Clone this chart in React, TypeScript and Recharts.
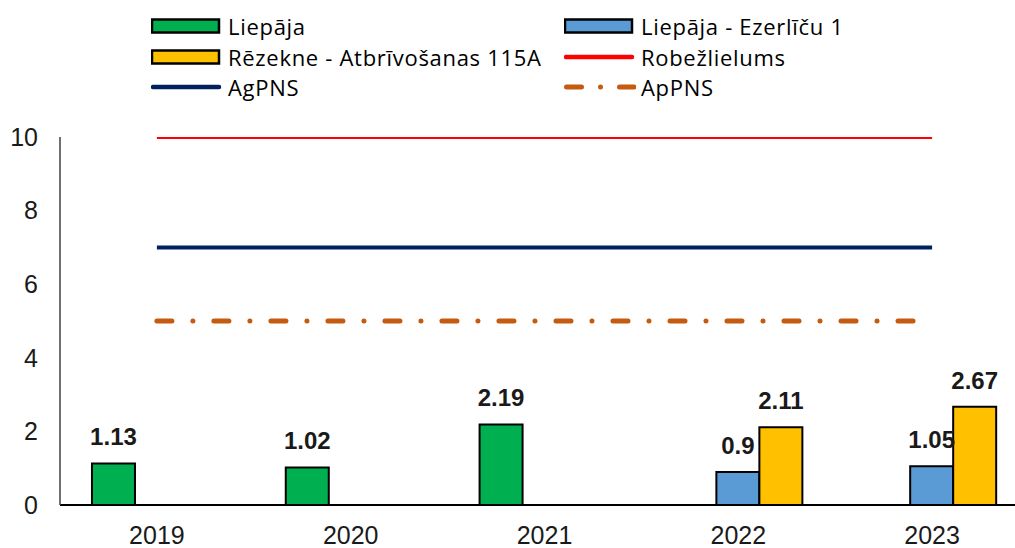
import React from "react";
import { ComposedChart, Bar, Line, XAxis, YAxis, LabelList, Legend } from "recharts";

const years = ["2019", "2020", "2021", "2022", "2023"];
const liepaja: (number | null)[] = [1.13, 1.02, 2.19, null, null];
const ezerlicu: (number | null)[] = [null, null, null, 0.9, 1.05];
const rezekne: (number | null)[] = [null, null, null, 2.11, 2.67];
const robezlielums = [10, 10, 10, 10, 10];
const agpns = [7, 7, 7, 7, 7];
const appns = [5, 5, 5, 5, 5];
const yTicks = [0, 2, 4, 6, 8, 10];

const data = years.map((y, i) => ({
  year: y,
  liepaja: liepaja[i],
  ezerlicu: ezerlicu[i],
  rezekne: rezekne[i],
  robezlielums: robezlielums[i],
  agpns: agpns[i],
  appns: appns[i],
}));

const GREEN = "#00B050";
const BLUE = "#5B9BD5";
const YELLOW = "#FFC000";
const RED = "#FF0000";
const NAVY = "#002060";
const ORANGE = "#C55A11";

const legendItems = [
  { name: "Liepāja", type: "rect", color: GREEN, x: 151, y: 26 },
  { name: "Liepāja - Ezerlīču 1", type: "rect", color: BLUE, x: 564, y: 26 },
  { name: "Rēzekne - Atbrīvošanas 115A", type: "rect", color: YELLOW, x: 151, y: 56.5 },
  { name: "Robežlielums", type: "line", color: RED, x: 564, y: 56.5 },
  { name: "AgPNS", type: "line", color: NAVY, x: 151, y: 87 },
  { name: "ApPNS", type: "dashdot", color: ORANGE, x: 564, y: 87 },
];

const LegendContent = () => (
  <div style={{ position: "relative", width: 1015, height: 105 }}>
    {legendItems.map((it) => (
      <div
        key={it.name}
        style={{
          position: "absolute",
          left: it.x,
          top: it.y - 15,
          height: 30,
          display: "flex",
          alignItems: "center",
          whiteSpace: "nowrap",
        }}
      >
        <svg width={72} height={30} style={{ display: "block" }}>
          {it.type === "rect" && (
            <rect x={1} y={8.5} width={67} height={13} fill={it.color} stroke="#000" strokeWidth={2.5} />
          )}
          {it.type === "line" && (
            <line x1={2} y1={15} x2={68} y2={15} stroke={it.color} strokeWidth={4.5} strokeLinecap="round" />
          )}
          {it.type === "dashdot" && (
            <line x1={2.5} y1={15} x2={70} y2={15} stroke={it.color} strokeWidth={5} strokeLinecap="round" strokeDasharray="15 19 0.01 19" />
          )}
        </svg>
        <span style={{ fontFamily: "'Open Sans', sans-serif", fontSize: 22, letterSpacing: 0.7, color: "#000", marginLeft: 5 }}>
          {it.name}
        </span>
      </div>
    ))}
  </div>
);

const labelStyle = {
  fontFamily: "'Liberation Sans', Arial, sans-serif",
  fontSize: 24,
  fontWeight: 700,
  fill: "#1a1a1a",
};

export default function App() {
  return (
    <div style={{ position: "absolute", left: 0, top: 0, width: 1015, height: 548, overflow: "hidden", background: "#fff" }}>
      <ComposedChart
        width={1040}
        height={548}
        data={data}
        margin={{ top: 137, right: 11, bottom: 0, left: 0 }}
        barCategoryGap="16.5%"
        barGap={0}
      >
        <XAxis
          dataKey="year"
          tickLine={false}
          axisLine={{ stroke: "#000", strokeWidth: 2 }}
          tickMargin={15}
          height={43}
          tick={{ fontFamily: "'Liberation Sans', Arial, sans-serif", fontSize: 25, fill: "#1a1a1a" }}
          interval={0}
        />
        <YAxis
          width={60}
          domain={[0, 10]}
          ticks={yTicks}
          tickLine={false}
          axisLine={{ stroke: "#404040", strokeWidth: 1.5 }}
          tickMargin={16}
          tick={{ fontFamily: "'Liberation Sans', Arial, sans-serif", fontSize: 25, fill: "#1a1a1a" }}
          allowDataOverflow
        />
        <Legend
          verticalAlign="middle"
          align="center"
          layout="horizontal"
          wrapperStyle={{ top: 0, left: 0, width: 1015, height: 105 }}
          content={() => <LegendContent />}
        />
        <Bar dataKey="liepaja" name="Liepāja" fill={GREEN} stroke="#000" strokeWidth={2} isAnimationActive={false}>
          <LabelList dataKey="liepaja" position="top" offset={18} style={labelStyle} />
        </Bar>
        <Bar dataKey="ezerlicu" name="Liepāja - Ezerlīču 1" fill={BLUE} stroke="#000" strokeWidth={2} isAnimationActive={false}>
          <LabelList dataKey="ezerlicu" position="top" offset={18} style={labelStyle} />
        </Bar>
        <Bar dataKey="rezekne" name="Rēzekne - Atbrīvošanas 115A" fill={YELLOW} stroke="#000" strokeWidth={2} isAnimationActive={false}>
          <LabelList dataKey="rezekne" position="top" offset={18} style={labelStyle} />
        </Bar>
        <Line dataKey="robezlielums" name="Robežlielums" stroke={RED} strokeWidth={4} dot={false} activeDot={false} isAnimationActive={false} />
        <Line dataKey="agpns" name="AgPNS" stroke={NAVY} strokeWidth={4} dot={false} activeDot={false} isAnimationActive={false} />
        <Line
          dataKey="appns"
          name="ApPNS"
          stroke={ORANGE}
          strokeWidth={5}
          strokeLinecap="round"
          strokeDasharray="15 21 0.01 21"
          dot={false}
          activeDot={false}
          isAnimationActive={false}
        />
      </ComposedChart>
    </div>
  );
}
